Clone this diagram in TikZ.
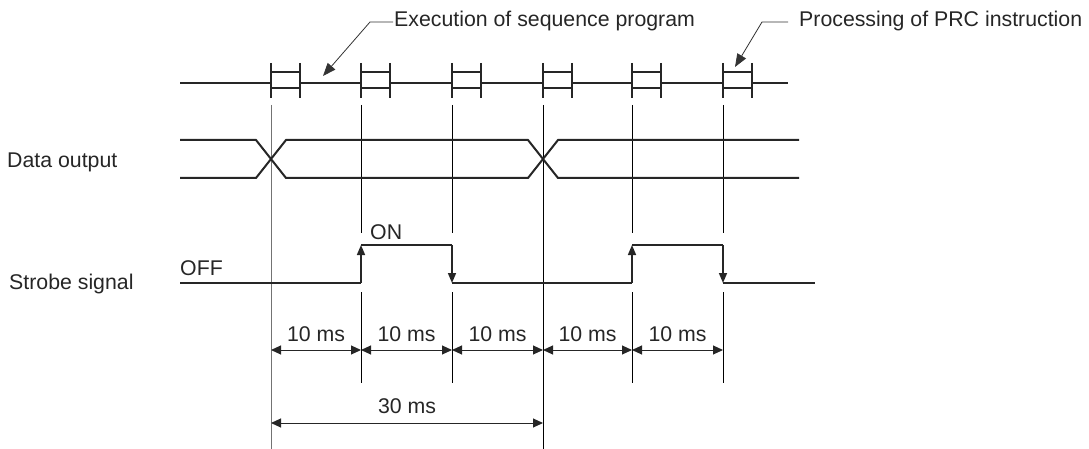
\documentclass[tikz,border=0pt]{standalone}
\usepackage{fontspec}
\setmainfont{Liberation Sans}
\usetikzlibrary{arrows.meta}
\begin{document}
\begin{tikzpicture}[x=1pt,y=-1pt,
  sig/.style={line width=1.6pt, draw=black!85},
  boxline/.style={line width=2pt, draw=black!85},
  guide/.style={line width=0.9pt, draw=black},
  dim/.style={line width=1pt, draw=black!85, {Triangle[length=10pt,width=9pt]}-{Triangle[length=10pt,width=9pt]}},
  lbl/.style={font=\fontsize{21.3}{25}\selectfont, text=black!85, inner sep=0pt},
  edgearrow/.style={line width=1.6pt, draw=black!85, -{Triangle[length=10pt,width=8pt]}},
  leader/.style={line width=0.8pt, draw=black!80, -{Triangle[length=13pt,width=10pt]}}]
\useasboundingbox (0,0) rectangle (1089,449);

% timeline coordinates
\foreach \n/\x in {1/271,2/361,3/452,4/543,5/632,6/723}{
  \coordinate (t\n) at (\x,0);
}

% ---- top line with processing boxes
\draw[sig] (180,83) -- (271,83);
\foreach \a/\b in {300/361,390/452,481/543,572/632,661/723,752/788}{
  \draw[sig] (\a,83) -- (\b,83);
}
\foreach \x in {271,361,452,543,632,723}{
  \draw[boxline] (\x,63) -- (\x,98);
  \draw[boxline] (\x+29,63) -- (\x+29,98);
  \draw[sig] (\x,72) -- (\x+29,72);
  \draw[sig] (\x,88) -- (\x+29,88);
}

% ---- guide lines
\draw[guide, draw=black!55] (271,105) -- (271,449);
\draw[guide] (543,105) -- (543,449);
\foreach \x in {361,452,632,723}{
  \draw[guide] (\x,105) -- (\x,233);
  \draw[guide] (\x,292) -- (\x,383);
}

% ---- data output
\draw[boxline] (180,140) -- (256,140) -- (286,178) -- (528,178) -- (558,140) -- (799,140);
\draw[boxline] (180,178) -- (256,178) -- (286,140) -- (528,140) -- (558,178) -- (799,178);

% ---- strobe signal
\draw[sig] (180,283) -- (361,283);
\draw[edgearrow] (361,283) -- (361,245);
\draw[sig] (361,245) -- (452,245);
\draw[edgearrow] (452,245) -- (452,283);
\draw[sig] (452,283) -- (632,283);
\draw[edgearrow] (632,283) -- (632,245);
\draw[sig] (632,245) -- (723,245);
\draw[edgearrow] (723,245) -- (723,283);
\draw[sig] (723,283) -- (815,283);

% ---- labels
\node[lbl, anchor=base west] (dataout) at (7,168) {Data output};
\node[lbl, anchor=base west] (strobe) at (9,289) {Strobe signal};
\node[lbl, anchor=base west] (off) at (180,275) {OFF};
\node[lbl, anchor=base west] (on) at (370,239) {ON};

% ---- dimensions
\foreach \a/\b in {271/361,361/452,452/543,543/632,632/723}{
  \draw[dim] (\a,350) -- (\b,350);
  \node[lbl, anchor=base] at ({(\a+\b)/2},341.5) {10 ms};
}
\draw[dim] (271,423) -- (543,423);
\node[lbl, anchor=base] (thirty) at (407,413) {30 ms};

% ---- top annotations
\node[lbl, anchor=base west] (exec) at (394,27) {Execution of sequence program};
\node[lbl, anchor=base west] (prc) at (799,27) {Processing of PRC instruction};
\coordinate (execTip) at (323,76);
\coordinate (prcTip) at (735,67);
\draw[leader] ([xshift=-1pt,yshift=5pt]exec.base west) -- ++(-23,0) -- (execTip);
\draw[leader] ([xshift=-11pt,yshift=5pt]prc.base west) -- ++(-26,0) -- (prcTip);
\end{tikzpicture}
\end{document}
